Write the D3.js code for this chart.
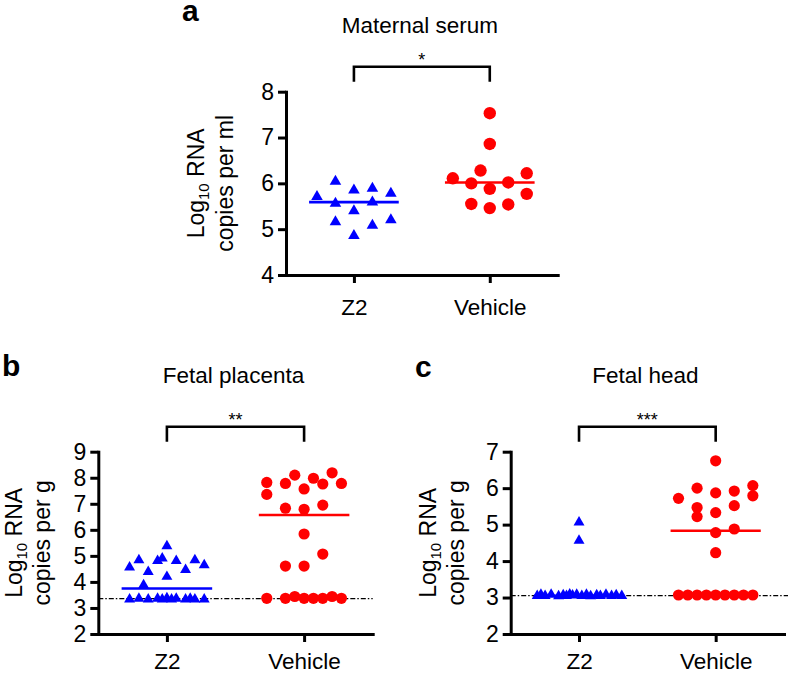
<!DOCTYPE html>
<html><head><meta charset="utf-8">
<script src="https://cdn.jsdelivr.net/npm/d3@7"></script>
<style>
body{margin:0;background:#fff}
svg{display:block}
text{font-family:"Liberation Sans",Arial,Helvetica,sans-serif;fill:#000}
</style>
</head><body>
<svg id="chart" width="788" height="673"></svg>
<script>
// ---------------- DATA ----------------
const categories = ["Z2", "Vehicle"];

// Panel a: Maternal serum
const aTitle = "Maternal serum";
const aStars = "*";
const aTicks = [4, 5, 6, 7, 8];
const aZ2 = [5.71, 6.04, 5.56, 5.16, 5.85, 5.40, 4.86, 5.89, 5.59, 5.08, 5.78, 5.20];
const aZ2Jitter = [-4, -2, -2, -2, 0, 0, 0, 2, 2, 2, 4, 4];
const aVeh = [6.11, 6.00, 5.55, 6.28, 5.88, 5.46, 7.53, 6.86, 6.02, 5.54, 6.22, 5.77];
const aVehJitter = [-4, -2, -2, -1, 0, 0, 0, 0, 2, 2, 4, 4];
const aMedians = [5.59, 6.02];

// Panel b: Fetal placenta
const bTitle = "Fetal placenta";
const bStars = "**";
const bTicks = [2, 3, 4, 5, 6, 7, 8, 9];
const bLOD = 3.36;
const bZ2 = [4.56, 4.84, 4.39, 3.88, 4.81, 4.91, 5.38, 4.20, 4.81, 4.46, 4.84, 4.65,
             3.33, 3.36, 3.33, 3.36, 3.33, 3.38, 3.33, 3.36, 3.33, 3.36, 3.33, 3.33];
const bZ2Jitter = [-4, -3, -2, -2.5, -1, -0.5, 0, 0, 1, 2, 3, 4,
                   -4, -3, -2, -1, -0.5, 0, 0.5, 1, 2, 2.5, 3, 4];
const bVeh = [7.82, 7.36, 7.78, 6.83, 4.61, 8.10, 7.57, 6.79, 5.84, 4.61, 7.98,
              7.76, 6.95, 5.07, 8.19, 7.78,
              3.37, 3.37, 3.44, 3.37, 3.37, 3.37, 3.44, 3.37];
const bVehJitter = [-4, -4, -2, -2, -2, -1, 0, 0, 0, 0, 1,
                    2, 2, 2, 3, 4,
                    -4, -2, -1, 0, 1, 2, 3, 4];
const bMedians = [3.75, 6.57];

// Panel c: Fetal head
const cTitle = "Fetal head";
const cStars = "***";
const cTicks = [2, 3, 4, 5, 6, 7];
const cLOD = 3.05;
const cZ2 = [5.06, 4.56,
             3.05, 3.08, 3.05, 3.08, 3.04, 3.07, 3.05, 3.09, 3.06, 3.08,
             3.05, 3.08, 3.04, 3.07, 3.05, 3.08, 3.05, 3.07, 3.05];
const cZ2Jitter = [0, 0,
                   -4.5, -4.1, -3.65, -3, -2.2, -1.7, -1.35, -1, -0.7, -0.25,
                   0.3, 0.8, 1.25, 1.9, 2.3, 2.9, 3.5, 4, 4.6];
const cVeh = [5.72, 6.00, 5.47, 5.22, 6.75, 5.87, 5.33, 4.78, 4.23,
              5.92, 5.52, 4.88, 6.07, 5.79,
              3.07, 3.07, 3.07, 3.07, 3.07, 3.07, 3.07, 3.07, 3.07];
const cVehJitter = [-4, -2, -2, -2, 0, 0, 0, 0, 0,
                    2, 2, 2, 4, 4,
                    -4, -3, -2, -1, 0, 1, 2, 3, 4];
const cMedians = [3.05, 4.83];

// ---------------- DRAWING ----------------
const BLUE = "#0000ff", RED = "#ff0000";
const svg = d3.select("#chart");

function panel(cfg) {
  const g = svg.append("g");
  const x = d3.scalePoint().domain(categories).range([cfg.left, cfg.right]).padding(0.5);
  const y = d3.scaleLinear().domain([cfg.ticks[0], cfg.ticks[cfg.ticks.length - 1]]).range([cfg.bottom, cfg.top]);
  const unit = x.step() * 0.068;
  const halfW = x.step() * 0.33;

  if (cfg.lod != null) {
    g.append("line")
      .attr("x1", cfg.left).attr("x2", cfg.lodEnd)
      .attr("y1", y(cfg.lod)).attr("y2", y(cfg.lod))
      .attr("stroke", "#000").attr("stroke-width", 1.3)
      .attr("stroke-dasharray", "5,2,1.5,2");
  }

  const tri = d3.symbol().type(d3.symbolTriangle).size(cfg.triSize);
  g.selectAll(".tri").data(cfg.z2.map((v, i) => ({v, j: cfg.z2J[i]})))
    .join("path")
    .attr("d", tri)
    .attr("transform", d => `translate(${x("Z2") + d.j * unit},${y(d.v)})`)
    .attr("fill", BLUE);

  g.selectAll(".dot").data(cfg.veh.map((v, i) => ({v, j: cfg.vehJ[i]})))
    .join("circle")
    .attr("cx", d => x("Vehicle") + d.j * unit)
    .attr("cy", d => y(d.v))
    .attr("r", cfg.r)
    .attr("fill", RED);

  g.selectAll(".med").data(cfg.medians)
    .join("line")
    .attr("x1", (d, i) => x(categories[i]) - halfW)
    .attr("x2", (d, i) => x(categories[i]) + halfW)
    .attr("y1", d => y(d)).attr("y2", d => y(d))
    .attr("stroke", (d, i) => i === 0 ? BLUE : RED)
    .attr("stroke-width", 2.6);

  const yAxis = d3.axisLeft(y).tickValues(cfg.ticks).tickSize(8).tickSizeOuter(0).tickPadding(4).tickFormat(d3.format("d"));
  const ya = g.append("g").attr("transform", `translate(${cfg.left},0)`).call(yAxis);
  const xAxis = d3.axisBottom(x).tickSize(8).tickSizeOuter(0).tickPadding(cfg.xPad);
  const xa = g.append("g").attr("transform", `translate(0,${cfg.bottom})`).call(xAxis);
  [ya, xa].forEach(a => {
    a.select(".domain").attr("stroke", "#000").attr("stroke-width", 3).attr("stroke-linecap", "square");
    a.selectAll(".tick line").attr("stroke", "#000").attr("stroke-width", 3);
    a.selectAll(".tick text").attr("font-size", 23).attr("font-family", "Liberation Sans, Arial, sans-serif").attr("fill", "#000");
  });
  xa.selectAll(".tick text").attr("font-size", 22.5);

  const bx1 = x("Z2"), bx2 = x("Vehicle"), by = cfg.top - 25;
  g.append("path")
    .attr("d", `M${bx1},${cfg.top - 10}V${by}H${bx2}V${cfg.top - 10}`)
    .attr("fill", "none").attr("stroke", "#000").attr("stroke-width", 2.6);
  g.append("text").attr("x", (bx1 + bx2) / 2).attr("y", cfg.top - 25.5)
    .attr("text-anchor", "middle").attr("font-size", 18).text(cfg.stars);

  g.append("text").attr("x", (bx1 + bx2) / 2 - 2).attr("y", cfg.titleY)
    .attr("text-anchor", "middle").attr("font-size", 22.5).text(cfg.title);

  g.append("text").attr("x", cfg.letterX).attr("y", cfg.letterY)
    .attr("font-size", 30).attr("font-weight", "bold").text(cfg.letter);

  const cy = (cfg.top + cfg.bottom) / 2;
  const t1 = g.append("text")
    .attr("transform", `translate(${cfg.left + cfg.lab1},${cy}) rotate(-90)`)
    .attr("text-anchor", "middle").attr("dy", "0.36em").attr("font-size", 23);
  t1.append("tspan").text("Log");
  t1.append("tspan").attr("font-size", 15).attr("dy", 5).text("10");
  t1.append("tspan").attr("dy", -5).text(" RNA");
  g.append("text")
    .attr("transform", `translate(${cfg.left + cfg.lab2},${cy}) rotate(-90)`)
    .attr("text-anchor", "middle").attr("dy", "0.36em").attr("font-size", 23)
    .text(cfg.unitLabel);
}

panel({left: 286, right: 557.7, top: 91.7, bottom: 275, ticks: aTicks,
  z2: aZ2, z2J: aZ2Jitter, veh: aVeh, vehJ: aVehJitter, medians: aMedians,
  triSize: 58, r: 6.2, stars: aStars, title: aTitle, titleY: 33, xPad: 16,
  letter: "a", letterX: 182, letterY: 21, lab1: -90, lab2: -61, unitLabel: "copies per ml"});

panel({left: 98.3, right: 372.7, top: 451.7, bottom: 634, ticks: bTicks,
  z2: bZ2, z2J: bZ2Jitter, veh: bVeh, vehJ: bVehJitter, medians: bMedians,
  lod: bLOD, lodEnd: 372.7, xPad: 11.5,
  triSize: 52, r: 5.6, stars: bStars, title: bTitle, titleY: 382.7,
  letter: "b", letterX: 2, letterY: 376, lab1: -85, lab2: -57, unitLabel: "copies per g"});

panel({left: 510.7, right: 784, top: 451.7, bottom: 634, ticks: cTicks,
  z2: cZ2, z2J: cZ2Jitter, veh: cVeh, vehJ: cVehJitter, medians: cMedians,
  lod: cLOD, lodEnd: 788, xPad: 11.5,
  triSize: 52, r: 5.6, stars: cStars, title: cTitle, titleY: 383.3,
  letter: "c", letterX: 415, letterY: 377, lab1: -83, lab2: -55, unitLabel: "copies per g"});
</script>
</body></html>
